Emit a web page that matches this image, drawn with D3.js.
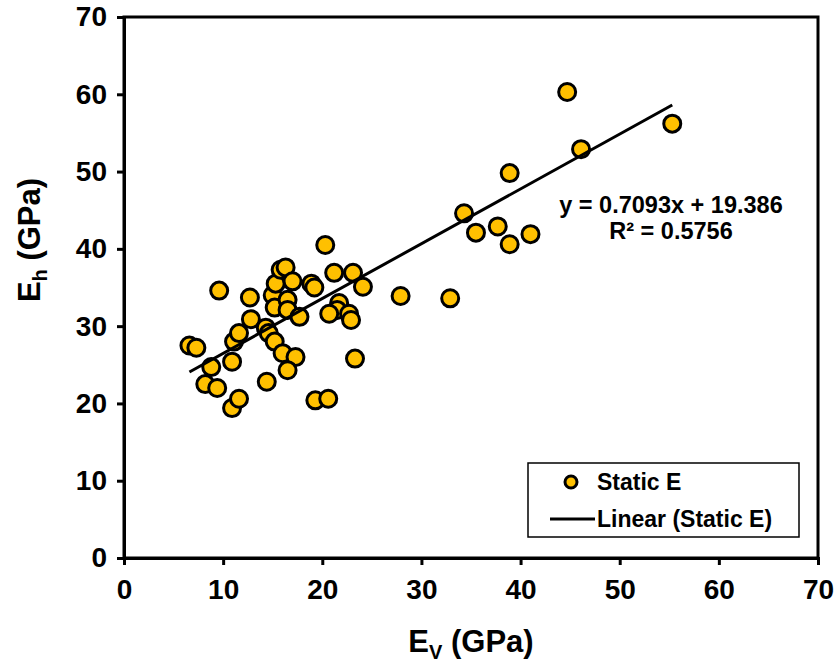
<!DOCTYPE html>
<html>
<head>
<meta charset="utf-8">
<script src="https://cdn.jsdelivr.net/npm/d3@7"></script>
<style>
  body { margin: 0; background: #fff; }
  svg text { font-family: Arial, "Liberation Sans", sans-serif; font-weight: bold; fill: #000; }
</style>
</head>
<body>
<div id="chart"></div>
<script>
// Static E data: vertical (Ev) vs horizontal (Eh) modulus, GPa
var ev = [6.6, 7.3, 8.8, 8.2, 9.4, 9.6, 10.9, 11.1, 11.6, 10.9, 11.6, 12.7, 12.8, 14.3, 14.6,
  14.4, 15.2, 15.0, 15.2, 15.3, 15.8, 16.3, 17.0, 16.5, 16.5, 17.7, 16.0, 17.3, 16.5,
  18.9, 19.2, 19.3, 20.6, 20.3, 21.2, 23.1, 24.1, 21.7, 21.5, 20.7, 22.7, 22.9, 23.3,
  27.9, 32.9, 34.3, 35.5, 37.7, 38.9, 41.0, 38.9, 44.7, 46.1, 55.3];
var eh = [27.5, 27.2, 24.7, 22.5, 22.0, 34.6, 25.4, 28.0, 29.1, 19.4, 20.6, 33.7, 30.9, 29.8, 29.1,
  22.8, 28.0, 34.0, 32.4, 35.5, 37.3, 37.6, 35.8, 33.4, 32.1, 31.2, 26.5, 26.0, 24.3,
  35.5, 35.0, 20.4, 20.6, 40.5, 36.9, 36.9, 35.1, 33.0, 32.1, 31.6, 31.6, 30.8, 25.8,
  33.9, 33.6, 44.6, 42.1, 42.9, 40.6, 41.9, 49.8, 60.3, 52.9, 56.2];
var xTicks = [0, 10, 20, 30, 40, 50, 60, 70];
var yTicks = [0, 10, 20, 30, 40, 50, 60, 70];
var slope = 0.7093, intercept = 19.386;
var eqLines = ["y = 0.7093x + 19.386", "R\u00b2 = 0.5756"];
var legendItems = ["Static E", "Linear (Static E)"];

var W = 838, H = 663;
var margin = { top: 17, right: 20, bottom: 105, left: 124 };
var iw = W - margin.left - margin.right, ih = H - margin.top - margin.bottom;
var gold = "#FFC000";

var svg = d3.select("#chart").append("svg").attr("width", W).attr("height", H);
var g = svg.append("g").attr("transform", "translate(" + margin.left + "," + margin.top + ")");

var x = d3.scaleLinear().domain([0, 70]).range([0, iw]);
var y = d3.scaleLinear().domain([0, 70]).range([ih, 0]);

// frame
g.append("rect").attr("width", iw).attr("height", ih)
  .attr("fill", "none").attr("stroke", "#000").attr("stroke-width", 3);

var xAxis = g.append("g").attr("transform", "translate(0," + ih + ")")
  .call(d3.axisBottom(x).tickValues(xTicks).tickSize(7).tickPadding(14));
var yAxis = g.append("g")
  .call(d3.axisLeft(y).tickValues(yTicks).tickSize(7).tickPadding(10));
[xAxis, yAxis].forEach(function (a) {
  a.select(".domain").attr("stroke-width", 3);
  a.selectAll(".tick line").attr("stroke-width", 3);
  a.selectAll(".tick text").style("font-size", "28px");
});

// points
g.selectAll("circle.pt").data(ev).enter().append("circle")
  .attr("class", "pt")
  .attr("cx", function (d) { return x(d); })
  .attr("cy", function (d, i) { return y(eh[i]); })
  .attr("r", 8.5)
  .attr("fill", gold).attr("stroke", "#000").attr("stroke-width", 3);

// trendline over data range
var x0 = d3.min(ev), x1 = d3.max(ev);
g.append("line")
  .attr("x1", x(x0)).attr("y1", y(slope * x0 + intercept))
  .attr("x2", x(x1)).attr("y2", y(slope * x1 + intercept))
  .attr("stroke", "#000").attr("stroke-width", 3);

// equation
g.selectAll("text.eq").data(eqLines).enter().append("text")
  .attr("class", "eq")
  .attr("x", 547).attr("y", function (d, i) { return 196 + i * 26; })
  .attr("text-anchor", "middle").style("font-size", "23.5px")
  .text(function (d) { return d; });

// axis titles
var xt = svg.append("text").attr("x", margin.left + iw / 2).attr("y", 652)
  .attr("text-anchor", "middle").style("font-size", "31px");
xt.append("tspan").text("E");
xt.append("tspan").attr("dy", 7).style("font-size", "20px").text("V");
xt.append("tspan").attr("dy", -7).text(" (GPa)");

var yt = svg.append("text")
  .attr("transform", "translate(40,240) rotate(-90)")
  .attr("text-anchor", "middle").style("font-size", "31px");
yt.append("tspan").text("E");
yt.append("tspan").attr("dy", 7).style("font-size", "20px").text("h");
yt.append("tspan").attr("dy", -7).text(" (GPa)");

// legend
var lg = svg.append("g").attr("transform", "translate(528,463)");
lg.append("rect").attr("width", 271).attr("height", 74)
  .attr("fill", "#fff").attr("stroke", "#000").attr("stroke-width", 1.5);
lg.append("circle").attr("cx", 43).attr("cy", 19).attr("r", 6)
  .attr("fill", gold).attr("stroke", "#000").attr("stroke-width", 3);
lg.append("line").attr("x1", 22).attr("x2", 67).attr("y1", 56).attr("y2", 56)
  .attr("stroke", "#000").attr("stroke-width", 3);
lg.selectAll("text").data(legendItems).enter().append("text")
  .attr("x", 69).attr("y", function (d, i) { return 27 + i * 37; })
  .style("font-size", "23px")
  .text(function (d) { return d; });
</script>
</body>
</html>
